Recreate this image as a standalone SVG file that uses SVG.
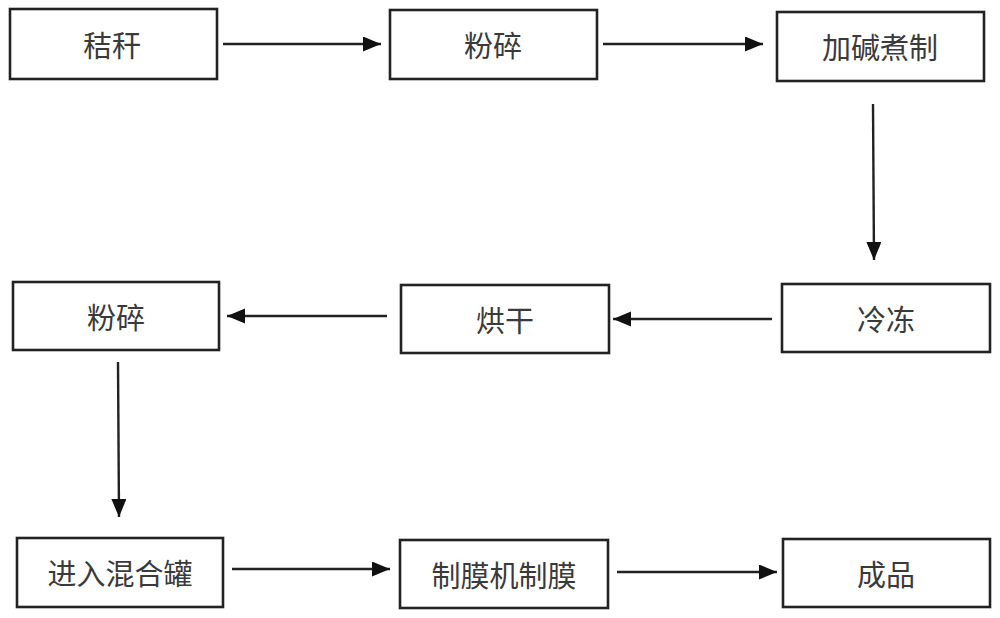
<svg xmlns="http://www.w3.org/2000/svg" width="1000" height="618" viewBox="0 0 1000 618">
<style>
.box{fill:#fff;stroke:#222;stroke-width:2.6}
.lbl{font-family:"Noto Sans CJK SC","Noto Sans",sans-serif;font-size:29px;fill:#3a3a3a;text-anchor:middle;dominant-baseline:central}
.conn{stroke:#222;stroke-width:2.4;fill:none;marker-end:url(#ah)}
</style>
<defs>
<marker id="ah" markerUnits="userSpaceOnUse" markerWidth="20" markerHeight="16" refX="18" refY="7.5" orient="auto">
<path d="M0,0 L18,7.5 L0,15 Z" fill="#111"/>
</marker>
</defs>
<rect width="1000" height="618" fill="#fff"/>
<g id="n1"><rect class="box" x="10" y="9" width="207" height="70"/><text class="lbl" x="112" y="44">秸秆</text></g>
<g id="n2"><rect class="box" x="390" y="10" width="207" height="69"/><text class="lbl" x="493" y="44">粉碎</text></g>
<g id="n3"><rect class="box" x="777" y="12" width="207" height="69"/><text class="lbl" x="880" y="46">加碱煮制</text></g>
<g id="n4"><rect class="box" x="782" y="284" width="208" height="68"/><text class="lbl" x="886" y="318">冷冻</text></g>
<g id="n5"><rect class="box" x="401" y="285" width="208" height="68"/><text class="lbl" x="505" y="319">烘干</text></g>
<g id="n6"><rect class="box" x="13" y="282" width="206" height="68"/><text class="lbl" x="116" y="316">粉碎</text></g>
<g id="n7"><rect class="box" x="17" y="538" width="206" height="69"/><text class="lbl" x="120" y="572">进入混合罐</text></g>
<g id="n8"><rect class="box" x="400" y="540" width="208" height="68"/><text class="lbl" x="504" y="574">制膜机制膜</text></g>
<g id="n9"><rect class="box" x="783" y="539" width="207" height="68"/><text class="lbl" x="886" y="573">成品</text></g>
<g id="connectors">
<line class="conn" x1="223" y1="44" x2="381" y2="44"/>
<line class="conn" x1="603" y1="44" x2="763" y2="44"/>
<line class="conn" x1="873" y1="104" x2="874" y2="260"/>
<line class="conn" x1="772" y1="319" x2="613" y2="319"/>
<line class="conn" x1="387" y1="316" x2="227" y2="316"/>
<line class="conn" x1="118" y1="362" x2="119" y2="517"/>
<line class="conn" x1="232" y1="569" x2="390" y2="569"/>
<line class="conn" x1="617" y1="572" x2="777" y2="572"/>
</g>
</svg>
